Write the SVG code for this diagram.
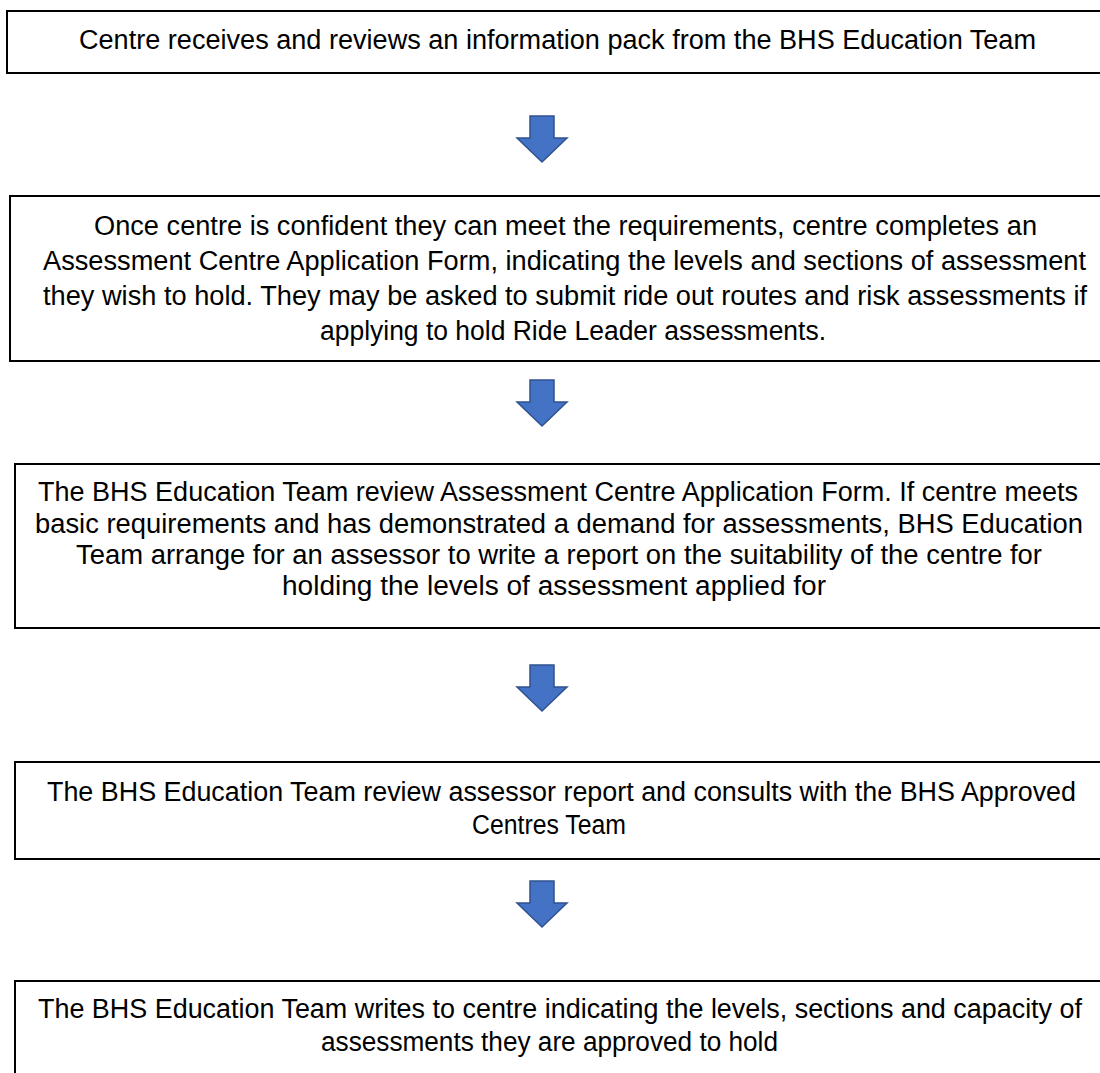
<svg xmlns="http://www.w3.org/2000/svg" width="1100" height="1073" viewBox="0 0 1100 1073">
<style>
.box{fill:#fff;stroke:#000;stroke-width:2}
.t{font-family:"Liberation Sans",Arial,sans-serif;font-size:27px;fill:#000}
.arr{fill:#4472C4;stroke:#2F528F;stroke-width:1.5}
</style>
<rect width="1100" height="1073" fill="#fff"/>
<g id="connectors">
<path class="arr" d="M530,116 H554 V138 H567 L542,162 L517,138 H530 Z"/>
<path class="arr" d="M530,380 H554 V402 H567 L542,426 L517,402 H530 Z"/>
<path class="arr" d="M530,665 H554 V687 H567 L542,711 L517,687 H530 Z"/>
<path class="arr" d="M530,881 H554 V903 H567 L542,927 L517,903 H530 Z"/>
</g>
<g id="node1">
<rect class="box" x="7" y="11" width="1100" height="62"/>
<text class="t" x="79" y="49" textLength="957" lengthAdjust="spacingAndGlyphs">Centre receives and reviews an information pack from the BHS Education Team</text>
</g>
<g id="node2">
<rect class="box" x="10" y="196" width="1100" height="165"/>
<text class="t" x="94" y="235" textLength="943" lengthAdjust="spacingAndGlyphs">Once centre is confident they can meet the requirements, centre completes an</text>
<text class="t" x="43" y="270" textLength="1043" lengthAdjust="spacingAndGlyphs">Assessment Centre Application Form, indicating the levels and sections of assessment</text>
<text class="t" x="43" y="305" textLength="1044" lengthAdjust="spacingAndGlyphs">they wish to hold. They may be asked to submit ride out routes and risk assessments if</text>
<text class="t" x="320" y="340" textLength="506" lengthAdjust="spacingAndGlyphs">applying to hold Ride Leader assessments.</text>
</g>
<g id="node3">
<rect class="box" x="15" y="464" width="1100" height="164"/>
<text class="t" x="38" y="501" textLength="1040" lengthAdjust="spacingAndGlyphs">The BHS Education Team review Assessment Centre Application Form. If centre meets</text>
<text class="t" x="35" y="533" textLength="1048" lengthAdjust="spacingAndGlyphs">basic requirements and has demonstrated a demand for assessments, BHS Education</text>
<text class="t" x="76" y="564" textLength="966" lengthAdjust="spacingAndGlyphs">Team arrange for an assessor to write a report on the suitability of the centre for</text>
<text class="t" x="282" y="595" textLength="544" lengthAdjust="spacingAndGlyphs">holding the levels of assessment applied for</text>
</g>
<g id="node4">
<rect class="box" x="15" y="762" width="1100" height="97"/>
<text class="t" x="47" y="801" textLength="1029" lengthAdjust="spacingAndGlyphs">The BHS Education Team review assessor report and consults with the BHS Approved</text>
<text class="t" x="472" y="834" textLength="154" lengthAdjust="spacingAndGlyphs">Centres Team</text>
</g>
<g id="node5">
<rect class="box" x="15" y="981" width="1100" height="110"/>
<text class="t" x="38" y="1018" textLength="1044" lengthAdjust="spacingAndGlyphs">The BHS Education Team writes to centre indicating the levels, sections and capacity of</text>
<text class="t" x="321" y="1051" textLength="457" lengthAdjust="spacingAndGlyphs">assessments they are approved to hold</text>
</g>
</svg>
